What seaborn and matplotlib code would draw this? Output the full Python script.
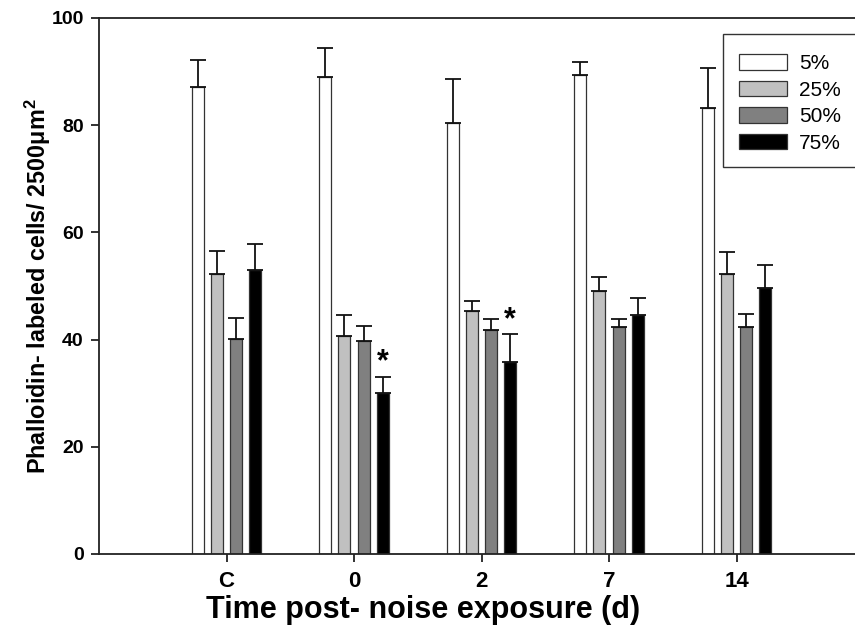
import matplotlib
matplotlib.use("Agg")
import matplotlib.pyplot as plt
import seaborn as sns
import pandas as pd
import numpy as np
from matplotlib.patches import Patch, Rectangle

categories = ["C", "0", "2", "7", "14"]
series = ["5%", "25%", "50%", "75%"]
v5 = [87.2, 89.0, 80.5, 89.4, 83.3]
e5 = [5.0, 5.4, 8.1, 2.4, 7.3]
v25 = [52.2, 40.6, 45.4, 49.1, 52.2]
e25 = [4.3, 3.9, 1.8, 2.5, 4.1]
v50 = [40.1, 39.7, 41.7, 42.4, 42.4]
e50 = [3.9, 2.9, 2.1, 1.5, 2.4]
v75 = [52.9, 30.0, 35.8, 44.6, 49.6]
e75 = [4.9, 3.0, 5.2, 3.2, 4.3]
star_groups = ["0", "2"]
star_series = "75%"
colors = ["#ffffff", "#c0c0c0", "#808080", "#000000"]

vals = [v5, v25, v50, v75]
errs = [e5, e25, e50, e75]
rows = []
for s, vv, ee in zip(series, vals, errs):
    for c, v, e in zip(categories, vv, ee):
        rows.append({"time": c, "conc": s, "value": v, "err": e})
df = pd.DataFrame(rows)

sns.set_style("ticks")
plt.rcParams["font.family"] = ["Liberation Sans", "DejaVu Sans"]
plt.rcParams["text.color"] = "black"
plt.rcParams["axes.labelcolor"] = "black"
plt.rcParams["xtick.color"] = "black"
plt.rcParams["ytick.color"] = "black"

fig = plt.figure(figsize=(8.55, 6.33), dpi=100)
ax = fig.add_axes([99 / 855, 79 / 633, 765 / 855, 536 / 633])

sns.barplot(data=df, x="time", y="value", hue="conc", order=categories,
            hue_order=series, palette=colors, width=0.6, gap=0.37,
            errorbar=None, edgecolor="#333333", linewidth=0.9, ax=ax,
            saturation=1, legend=False)

patches = [p for p in ax.patches]
for i, s in enumerate(series):
    for j, c in enumerate(categories):
        p = patches[i * len(categories) + j]
        xc = p.get_x() + p.get_width() / 2
        sub = df[(df.conc == s) & (df.time == c)].iloc[0]
        ax.errorbar(xc, sub.value, yerr=[[0], [sub.err]], fmt="none",
                    ecolor="#111111", elinewidth=1.3, capsize=6, capthick=1.3,
                    zorder=1)
        if s == star_series and c in star_groups:
            ax.text(xc, sub.value + sub.err - 0.1, "*", ha="center",
                    va="bottom", fontsize=22, fontweight="bold")

ax.set_xlim(-1, 5)
ax.set_ylim(0, 100)
ax.set_yticks([0, 20, 40, 60, 80, 100])
ax.spines["right"].set_visible(False)
for sp in ["left", "bottom", "top"]:
    ax.spines[sp].set_linewidth(1.3)
    ax.spines[sp].set_color("#222222")
ax.tick_params(axis="both", direction="out", length=6, width=1.3,
               color="#222222", labelcolor="black", pad=5)
ax.tick_params(axis="y", labelsize=14)
ax.tick_params(axis="x", labelsize=16, pad=6)
for lab in ax.get_xticklabels() + ax.get_yticklabels():
    lab.set_fontweight("bold")

ax.set_xlabel("Time post- noise exposure (d)", fontsize=22, fontweight="bold")
ax.xaxis.set_label_coords(0.424, -0.077)
ax.set_ylabel("Phalloidin- labeled cells/ 2500$\\mathregular{\\mu m^2}$",
              fontsize=16.8, fontweight="bold", labelpad=-1)

# legend frame (extends past the right edge, as in the reference)
frame = Rectangle((0.816, 0.722), 0.4, 0.9701 - 0.722, transform=ax.transAxes,
                  facecolor="white", edgecolor="#333333", linewidth=1.0,
                  clip_on=False, zorder=4)
ax.add_patch(frame)
handles = [Patch(facecolor=col, edgecolor="#333333", linewidth=0.9) for col in colors]
leg = ax.legend(handles, series, loc="upper left",
                bbox_to_anchor=(0.816, 0.9626),
                borderaxespad=0, fontsize=15, handlelength=2.3,
                handleheight=0.77, labelspacing=0.36, handletextpad=0.58,
                borderpad=0.77, frameon=False)
leg.set_zorder(5)

fig.savefig("out.png", dpi=100)
